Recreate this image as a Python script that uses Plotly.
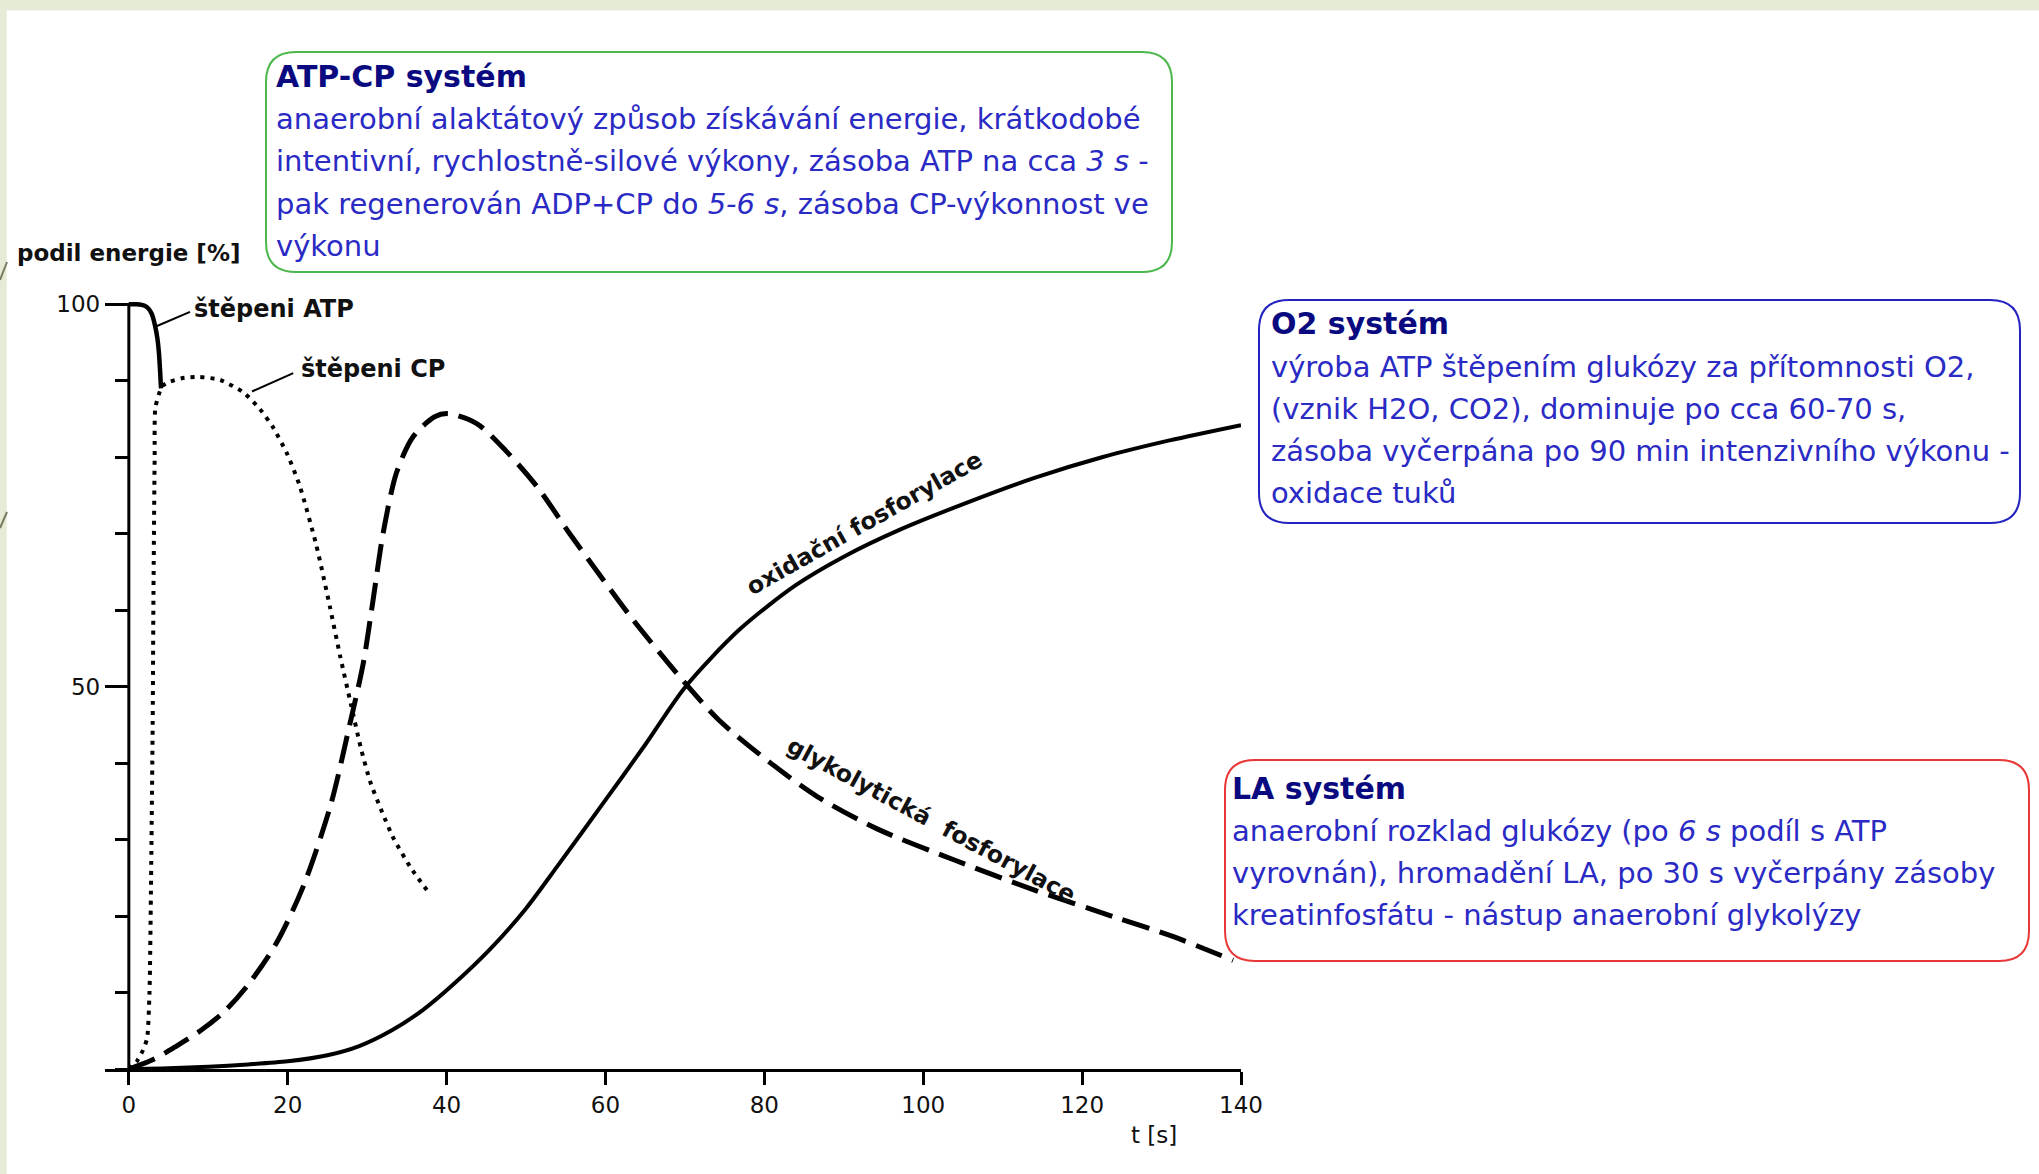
import plotly.graph_objects as go

# ---------------- data ----------------
atp_x = [0, 1, 2, 2.5, 2.9, 3.3, 3.6, 3.8, 3.95, 4.05]
atp_y = [100, 100, 99.8, 99.4, 98.7, 97.2, 95.5, 93.5, 91, 89]

cp_x = [0, 1.0, 1.8, 2.3, 2.6, 2.8, 3.0, 3.1, 3.25, 3.35, 4.2, 5.2, 7, 8.9, 11.5, 14.4,
        16.5, 18.1, 19.9, 21.5, 23.6, 25.3, 26.6, 28.0, 29.2, 30.4, 31.8, 33.3, 35.5, 37.8]
cp_y = [0, 1.0, 2.5, 4, 10, 25, 45, 62, 80, 86.5, 89.3, 89.9, 90.4, 90.5, 90.1, 88.5,
        86.3, 84.0, 80.5, 76.3, 68.5, 60.5, 54, 47.5, 42, 37.5, 33.8, 30.2, 26.3, 23]

glyco_x = [0, 3, 6, 9, 12, 15, 18.6, 22, 25.4, 27.8, 29.5, 30.7, 32, 33.7, 35.8, 38.5,
           40.2, 43.8, 47.5, 51.5, 55.5, 59, 63.5, 70, 74.3, 80.8, 86.7, 94.2, 104, 114,
           124, 131.5, 139]
glyco_y = [0, 1.2, 3, 5, 7.5, 11, 16.5, 24, 34.5, 45, 53, 61, 70, 78, 82.7, 85.3,
           85.7, 84.4, 80.8, 76, 70, 65, 58.7, 50.5, 45.6, 40, 35.6, 31.4, 27.3, 23.4,
           19.9, 17.3, 14.2]

oxid_x = [0, 5, 10, 15, 20, 25, 29, 33, 37, 41, 45.6, 50, 54, 59.6, 65, 70, 76.8, 84,
          90, 97, 105.6, 114, 122.5, 131, 140]
oxid_y = [0, 0.1, 0.3, 0.6, 1.0, 1.8, 3.0, 5.0, 7.7, 11.2, 15.8, 21, 26.6, 34.6, 42.4,
          49.9, 57.4, 63.3, 67, 70.5, 74.1, 77.3, 80, 82.2, 84.2]

x_ticks = [0, 20, 40, 60, 80, 100, 120, 140]
y_ticks = [50, 100]
y_ticktext = ["50", "100"]

atp_box = ["<b>ATP-CP systém</b>",
           "anaerobní alaktátový způsob získávání energie, krátkodobé",
           "intentivní, rychlostně-silové výkony, zásoba ATP na cca <i>3 s</i> -",
           "pak regenerován ADP+CP do <i>5-6 s</i>, zásoba CP-výkonnost ve",
           "výkonu"]
o2_box = ["<b>O2 systém</b>",
          "výroba ATP štěpením glukózy za přítomnosti O2,",
          "(vznik H2O, CO2), dominuje po cca 60-70 s,",
          "zásoba vyčerpána po 90 min intenzivního výkonu -",
          "oxidace tuků"]
la_box = ["<b>LA systém</b>",
          "anaerobní rozklad glukózy (po <i>6 s</i> podíl s ATP",
          "vyrovnán), hromadění LA, po 30 s vyčerpány zásoby",
          "kreatinfosfátu - nástup anaerobní glykolýzy"]

# ---------------- layout geometry ----------------
FW, FH = 2039, 1174
L, T, W, H = 105, 289, 1136, 780


def px(xp):
    return (xp - L) / W


def py(yp):
    return (T + H - yp) / H


def rbox(x0, y0, x1, y1, r):
    pts = [("M", [(x0 + r, y0)]), ("L", [(x1 - r, y0)]), ("Q", [(x1, y0), (x1, y0 + r)]),
           ("L", [(x1, y1 - r)]), ("Q", [(x1, y1), (x1 - r, y1)]),
           ("L", [(x0 + r, y1)]), ("Q", [(x0, y1), (x0, y1 - r)]),
           ("L", [(x0, y0 + r)]), ("Q", [(x0, y0), (x0 + r, y0)])]
    s = ""
    for cmd, ps in pts:
        s += cmd + " " + " ".join(f"{px(a):.5f},{py(b):.5f}" for a, b in ps) + " "
    return s + "Z"


fig = go.Figure()
fig.add_trace(go.Scatter(x=oxid_x, y=oxid_y, mode="lines",
                         line=dict(color="black", width=4, shape="spline", smoothing=0.8)))
fig.add_trace(go.Scatter(x=glyco_x, y=glyco_y, mode="lines",
                         line=dict(color="black", width=5, dash="28px,11px",
                                   shape="spline", smoothing=0.8)))
fig.add_trace(go.Scatter(x=cp_x, y=cp_y, mode="lines",
                         line=dict(color="black", width=4, dash="4px,6px",
                                   shape="spline", smoothing=0.6)))
fig.add_trace(go.Scatter(x=atp_x, y=atp_y, mode="lines",
                         line=dict(color="black", width=4.5, shape="spline", smoothing=0.6)))

shapes = []
# background frame bands
shapes.append(dict(type="rect", xref="paper", yref="paper", x0=px(0), x1=px(FW),
                   y0=py(10.5), y1=py(0), fillcolor="#e6ebd6", line=dict(width=0),
                   layer="below"))
shapes.append(dict(type="rect", xref="paper", yref="paper", x0=px(0), x1=px(6.7),
                   y0=py(FH), y1=py(0), fillcolor="#e6ebd6", line=dict(width=0),
                   layer="below"))
for (a, b, c, d) in [(0, 280, 7, 262), (0, 528, 7, 512)]:
    shapes.append(dict(type="line", xref="paper", yref="paper", x0=px(a), y0=py(b),
                       x1=px(c), y1=py(d), line=dict(color="#7a7a60", width=2)))
# y-axis line from 0 to 100
shapes.append(dict(type="line", xref="x", yref="y", x0=0, x1=0, y0=0, y1=100,
                   line=dict(color="black", width=3)))
# leader lines
shapes.append(dict(type="line", xref="x", yref="y", x0=3.4, y0=97.1, x1=7.7, y1=99.0,
                   line=dict(color="black", width=2)))
shapes.append(dict(type="line", xref="x", yref="y", x0=15.5, y0=88.6, x1=20.7, y1=91.0,
                   line=dict(color="black", width=2)))
# text boxes
shapes.append(dict(type="path", xref="paper", yref="paper",
                   path=rbox(266, 52, 1172, 272, 30),
                   line=dict(color="#4cb84c", width=2), fillcolor="rgba(0,0,0,0)"))
shapes.append(dict(type="path", xref="paper", yref="paper",
                   path=rbox(1259, 300, 2020, 523, 30),
                   line=dict(color="#2323c0", width=2), fillcolor="rgba(0,0,0,0)"))
shapes.append(dict(type="path", xref="paper", yref="paper",
                   path=rbox(1225, 760, 2029, 961, 30),
                   line=dict(color="#e83838", width=2), fillcolor="rgba(0,0,0,0)"))

annotations = []
BODY = "DejaVu Sans"
body_col = "#2a2ac4"
title_col = "#0a0a80"


def box_text(lines, x_left, y_centers):
    for i, (txt, yc) in enumerate(zip(lines, y_centers)):
        annotations.append(dict(xref="paper", yref="paper", x=px(x_left), y=py(yc),
                                xanchor="left", yanchor="middle", showarrow=False,
                                text=txt,
                                font=dict(family=BODY, size=30 if i == 0 else 29,
                                          color=title_col if i == 0 else body_col)))


box_text(atp_box, 274, [76, 119, 161, 204, 246])
box_text(o2_box, 1269, [324, 367, 409, 451, 493])
box_text(la_box, 1230, [788, 831, 873, 915])

LBL = dict(family="DejaVu Sans", size=23, color="#111111")
annotations.append(dict(xref="paper", yref="paper", x=px(15), y=py(253), xanchor="left",
                        yanchor="middle", showarrow=False, text="<b>podil energie [%]</b>",
                        font=LBL))
annotations.append(dict(xref="x", yref="y", x=8.0, y=99.4, xanchor="left",
                        yanchor="middle", showarrow=False, text="<b>štěpeni ATP</b>",
                        font=dict(family="DejaVu Sans", size=24, color="#111111")))
annotations.append(dict(xref="x", yref="y", x=21.4, y=91.5, xanchor="left",
                        yanchor="middle", showarrow=False, text="<b>štěpeni CP</b>",
                        font=dict(family="DejaVu Sans", size=24, color="#111111")))
annotations.append(dict(xref="x", yref="y", x=92.6, y=71.4, xanchor="center",
                        yanchor="middle", showarrow=False, textangle=-29.5,
                        text="<b>oxidační fosforylace</b>",
                        font=dict(family="DejaVu Sans", size=23.5, color="#111111")))
annotations.append(dict(xref="x", yref="y", x=101.0, y=32.6, xanchor="center",
                        yanchor="middle", showarrow=False, textangle=28.2,
                        text="<b>glykolytická\u00a0\u00a0fosforylace</b>",
                        font=dict(family="DejaVu Sans", size=23.5, color="#111111")))
annotations.append(dict(xref="paper", yref="paper", x=px(1154), y=py(1135),
                        xanchor="center", yanchor="middle", showarrow=False,
                        text="t [s]", font=dict(family="DejaVu Sans", size=23,
                                                color="#111111")))

fig.update_layout(
    width=FW, height=FH,
    margin=dict(l=L, r=FW - L - W, t=T, b=FH - T - H, pad=0),
    paper_bgcolor="white", plot_bgcolor="white", showlegend=False,
    shapes=shapes, annotations=annotations,
    xaxis=dict(range=[-3, 140], showline=True, linecolor="black", linewidth=3,
               ticks="outside", ticklen=13, tickwidth=3, tickcolor="black",
               tickmode="array", tickvals=x_ticks,
               tickfont=dict(family="DejaVu Sans", size=23, color="#111111"),
               ticklabelstandoff=0, showgrid=False, zeroline=False, automargin=False,
               fixedrange=True),
    yaxis=dict(range=[0, 102], anchor="free", position=3 / 143, showline=False,
               ticks="outside", ticklen=24, tickwidth=3, tickcolor="black",
               tickmode="array", tickvals=y_ticks, ticktext=y_ticktext,
               minor=dict(ticks="outside", dtick=10, tick0=0, ticklen=14, tickwidth=3,
                          tickcolor="black"),
               tickfont=dict(family="DejaVu Sans", size=23, color="#111111"),
               ticklabelstandoff=0, showgrid=False, zeroline=False, automargin=False,
               fixedrange=True),
)

fig.write_html("out.html", config={"displayModeBar": False},
               post_script="document.body.style.margin='0';document.body.style.overflow='hidden';")
